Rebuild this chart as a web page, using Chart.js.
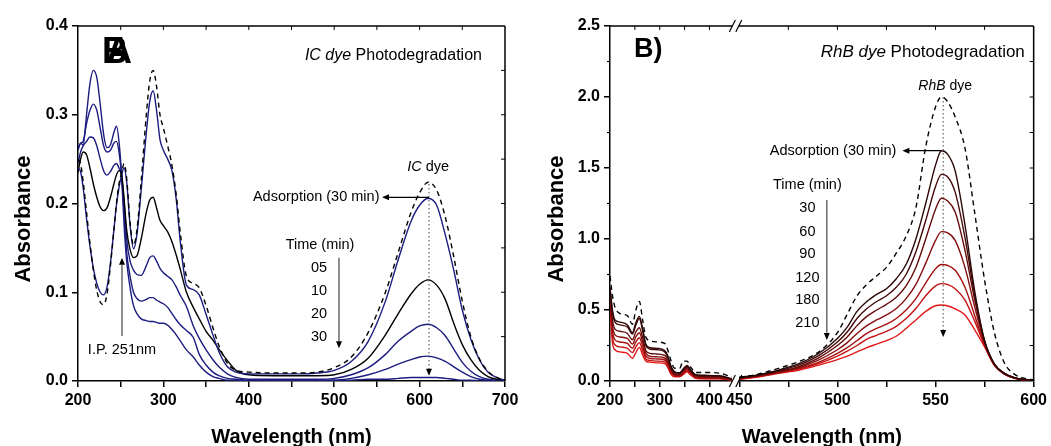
<!DOCTYPE html>
<html><head><meta charset="utf-8">
<script src="https://cdn.jsdelivr.net/npm/chart.js@4.4.1/dist/chart.umd.min.js"></script>
<style>
html,body{margin:0;padding:0;background:#fff;overflow:hidden}
#wrap{position:relative;width:1051px;height:446px}
canvas{position:absolute;top:0}
#cA{left:0}
#cB{left:525px}
</style></head><body>
<div id="wrap"><canvas id="cA" width="525" height="446"></canvas><canvas id="cB" width="526" height="446"></canvas></div>
<script>
// ================= Panel A : IC dye =================
const wlA = [200,203,206,210,214,218,222,226,230,234,238,242,245,248,251,254,257,261,265,269,274,280,284,288,292,296,300,305,310,315,320,327,335,342,350,358,365,375,385,400,430,460,480,500,520,540,560,575,590,600,610,620,630,640,650,660,670,680,690,700];
const icDye = [0.25,0.245,0.225,0.19,0.155,0.125,0.102,0.089,0.086,0.098,0.13,0.17,0.2,0.222,0.234,0.245,0.228,0.178,0.153,0.17,0.225,0.3,0.338,0.35,0.332,0.3,0.285,0.265,0.243,0.21,0.165,0.118,0.11,0.105,0.085,0.06,0.04,0.02,0.012,0.01,0.009,0.009,0.01,0.015,0.027,0.055,0.1,0.145,0.19,0.212,0.224,0.215,0.185,0.14,0.09,0.05,0.025,0.011,0.004,0.001];
const icAds30 = [0.24,0.236,0.218,0.183,0.152,0.127,0.11,0.1,0.097,0.106,0.133,0.17,0.198,0.218,0.232,0.24,0.224,0.175,0.149,0.165,0.215,0.28,0.315,0.327,0.305,0.272,0.26,0.25,0.237,0.205,0.155,0.108,0.103,0.097,0.075,0.052,0.033,0.016,0.01,0.008,0.008,0.008,0.009,0.012,0.022,0.045,0.09,0.137,0.18,0.198,0.206,0.198,0.165,0.125,0.08,0.047,0.024,0.01,0.004,0.001];
const ic05 = [0.235,0.25,0.258,0.255,0.24,0.222,0.207,0.196,0.192,0.195,0.207,0.222,0.232,0.237,0.233,0.205,0.17,0.148,0.139,0.141,0.16,0.19,0.204,0.207,0.195,0.181,0.175,0.168,0.157,0.142,0.125,0.1,0.083,0.07,0.056,0.046,0.036,0.023,0.012,0.007,0.006,0.006,0.006,0.007,0.013,0.026,0.052,0.076,0.098,0.109,0.114,0.108,0.092,0.065,0.041,0.024,0.012,0.005,0.002,0.001];
const ic10 = [0.245,0.258,0.265,0.27,0.275,0.274,0.265,0.25,0.237,0.232,0.236,0.243,0.245,0.24,0.232,0.2,0.16,0.135,0.125,0.12,0.119,0.13,0.139,0.141,0.135,0.127,0.122,0.118,0.114,0.106,0.096,0.084,0.062,0.048,0.035,0.024,0.016,0.008,0.004,0.002,0.002,0.002,0.002,0.003,0.007,0.015,0.03,0.045,0.056,0.062,0.064,0.06,0.051,0.036,0.021,0.011,0.005,0.002,0.001,0.0];
const ic20 = [0.26,0.268,0.27,0.29,0.305,0.312,0.305,0.285,0.265,0.258,0.26,0.268,0.27,0.258,0.232,0.19,0.145,0.118,0.1,0.093,0.09,0.092,0.094,0.094,0.091,0.089,0.087,0.083,0.076,0.069,0.063,0.057,0.049,0.03,0.018,0.01,0.006,0.003,0.002,0.001,0.001,0.001,0.001,0.001,0.003,0.007,0.013,0.019,0.024,0.027,0.028,0.026,0.022,0.016,0.01,0.005,0.002,0.001,0.0,0.0];
const ic30 = [0.262,0.268,0.266,0.3,0.335,0.35,0.342,0.312,0.278,0.263,0.266,0.28,0.287,0.27,0.232,0.175,0.135,0.105,0.085,0.076,0.07,0.068,0.067,0.067,0.066,0.065,0.065,0.063,0.058,0.052,0.045,0.035,0.027,0.018,0.01,0.005,0.003,0.001,0.001,0.0,0.0,0.0,0.0,0.001,0.001,0.002,0.002,0.003,0.004,0.004,0.004,0.004,0.003,0.002,0.001,0.001,0.0,0.0,0.0,0.0];
const timesA = ['05','10','20','30'];
const xTicksA = [200,250,300,350,400,450,500,550,600,650,700];
const topTicksA = [250,300,350,400,450,500,550,600,650];
const rightTicksA = [0.05,0.1,0.15,0.2,0.25,0.3,0.35];

// ================= Panel B : RhB dye (broken axis) =================
const wlBL = [200,205,210,220,235,245,252,259,266,272,280,295,310,316,322,330,340,347,355,362,372,390,420,445];
const wlBR = [450,460,470,480,490,500,505,510,515,520,525,530,535,540,545,550,553,556,560,565,570,575,580,585,590,595,600];
const rhbDyeL = [0.74,0.6,0.52,0.475,0.46,0.4,0.5,0.56,0.42,0.31,0.285,0.275,0.265,0.22,0.15,0.09,0.09,0.14,0.14,0.1,0.06,0.06,0.055,0.028];
const rhbDyeR = [0.025,0.05,0.089,0.135,0.2,0.34,0.47,0.6,0.68,0.74,0.8,0.9,1.02,1.22,1.65,1.93,2.0,1.97,1.86,1.64,1.18,0.71,0.34,0.13,0.05,0.02,0.008];
const rhbAdsL = [0.66,0.5,0.43,0.415,0.395,0.34,0.41,0.455,0.36,0.26,0.235,0.23,0.215,0.18,0.11,0.065,0.058,0.085,0.11,0.08,0.045,0.04,0.037,0.015];
const rhbAdsR = [0.025,0.045,0.077,0.12,0.19,0.3,0.38,0.49,0.56,0.61,0.65,0.72,0.82,1.0,1.25,1.52,1.622,1.6,1.48,1.1,0.63,0.285,0.12,0.055,0.025,0.01,0.005];
const rhb30L = [0.64,0.48,0.415,0.395,0.38,0.33,0.395,0.44,0.35,0.25,0.225,0.22,0.205,0.17,0.105,0.06,0.054,0.08,0.105,0.076,0.042,0.037,0.034,0.014];
const rhb30R = [0.022,0.042,0.072,0.11,0.175,0.275,0.345,0.44,0.51,0.56,0.6,0.66,0.75,0.91,1.13,1.37,1.455,1.44,1.33,1.01,0.6,0.28,0.118,0.054,0.024,0.01,0.005];
const rhb60L = [0.61,0.43,0.365,0.35,0.335,0.29,0.345,0.375,0.3,0.215,0.195,0.19,0.18,0.15,0.09,0.052,0.047,0.072,0.095,0.068,0.036,0.031,0.029,0.012];
const rhb60R = [0.02,0.04,0.068,0.1,0.16,0.25,0.31,0.39,0.455,0.5,0.54,0.59,0.67,0.8,1.0,1.21,1.287,1.27,1.19,0.92,0.57,0.275,0.117,0.053,0.023,0.01,0.005];
const rhb90L = [0.58,0.39,0.325,0.31,0.3,0.26,0.31,0.34,0.27,0.195,0.175,0.17,0.162,0.135,0.08,0.046,0.042,0.065,0.087,0.062,0.031,0.026,0.025,0.011];
const rhb90R = [0.018,0.037,0.064,0.093,0.145,0.22,0.27,0.335,0.39,0.43,0.465,0.51,0.58,0.68,0.83,0.99,1.052,1.045,0.99,0.8,0.52,0.27,0.115,0.052,0.022,0.009,0.004];
const rhb120L = [0.56,0.35,0.29,0.275,0.265,0.23,0.275,0.305,0.24,0.175,0.16,0.155,0.148,0.122,0.07,0.04,0.037,0.058,0.08,0.056,0.026,0.022,0.021,0.01];
const rhb120R = [0.016,0.034,0.06,0.087,0.13,0.195,0.235,0.285,0.335,0.37,0.4,0.44,0.5,0.58,0.69,0.79,0.82,0.815,0.78,0.66,0.46,0.26,0.115,0.05,0.021,0.009,0.004];
const rhb180L = [0.54,0.31,0.255,0.24,0.23,0.2,0.24,0.27,0.21,0.155,0.145,0.14,0.135,0.11,0.062,0.035,0.033,0.05,0.072,0.05,0.022,0.018,0.018,0.009];
const rhb180R = [0.014,0.032,0.057,0.082,0.12,0.175,0.21,0.25,0.295,0.322,0.35,0.385,0.44,0.51,0.6,0.67,0.686,0.68,0.65,0.57,0.42,0.25,0.11,0.05,0.021,0.008,0.003];
const rhb210L = [0.52,0.27,0.22,0.205,0.195,0.16,0.2,0.237,0.18,0.14,0.133,0.128,0.122,0.098,0.05,0.03,0.03,0.045,0.065,0.042,0.019,0.015,0.015,0.008];
const rhb210R = [0.01,0.03,0.054,0.075,0.11,0.15,0.175,0.205,0.235,0.26,0.285,0.315,0.37,0.43,0.49,0.53,0.535,0.53,0.508,0.465,0.36,0.24,0.11,0.05,0.02,0.008,0.003];
const timesB = ['30','60','90','120','180','210'];
const xTicksB = [200,250,300,350,400,450,475,500,525,550,575,600];
const xLabelsB = ['200','','300','','400','450','','500','','550','','600'];
const topTicksB = [250,300,350,400,475,500,525,550,575];
const minorYB = [0.25,0.75,1.25,1.75,2.25];
const rightTicksB = [0.25,0.5,0.75,1.0,1.25,1.5,1.75,2.0,2.25];

// ================= helpers =================
const FONT = '"Liberation Sans", Arial, sans-serif';
Chart.defaults.font.family = FONT;
Chart.defaults.color = '#000';
const NAVY = '#1c1c80';
const REDS = ['#2a0707','#470909','#650b0b','#850d0d','#a5100f','#c51212','#e41616'];
// broken-axis mapping for panel B (left part 200-445, right part 450-600)
const uB = w => w <= 447.5 ? (w - 200) / 2 : 130 + (w - 450) * 296 / 150;

function ds(data, color, dash){
  return {data, borderColor: color, borderWidth: 1.4, borderDash: dash || [], pointRadius: 0,
    cubicInterpolationMode: 'monotone', fill: false, spanGaps: false};
}
const ptsA = vals => wlA.map((w,i)=>({x:w, y:vals[i]}));
const ptsB = (L,R) => wlBL.map((w,i)=>({x:uB(w), y:L[i]}))
  .concat([{x:uB(447.5), y:null}], wlBR.map((w,i)=>({x:uB(w), y:R[i]})));

function txt(ctx, s, x, y, size, align, weight){
  ctx.font = (weight||'') + ' ' + size + 'px ' + FONT;
  ctx.textAlign = align || 'center'; ctx.textBaseline = 'middle'; ctx.fillStyle = '#000';
  ctx.fillText(s, x, y);
}
function rich(ctx, parts, x, y, size, align){
  const fonts = parts.map(p => (p[1] ? 'italic ' : '') + size + 'px ' + FONT);
  const ws = parts.map((p,i)=>{ctx.font = fonts[i]; return ctx.measureText(p[0]).width;});
  const tot = ws.reduce((a,b)=>a+b,0);
  let sx = align === 'right' ? x - tot : align === 'center' ? x - tot/2 : x;
  ctx.textAlign = 'left'; ctx.textBaseline = 'middle'; ctx.fillStyle = '#000';
  parts.forEach((p,i)=>{ctx.font = fonts[i]; ctx.fillText(p[0], sx, y); sx += ws[i];});
}
function seg(ctx, x1, y1, x2, y2, color, w, dash){
  ctx.save(); ctx.strokeStyle = color; ctx.lineWidth = w; ctx.setLineDash(dash || []);
  ctx.beginPath(); ctx.moveTo(x1,y1); ctx.lineTo(x2,y2); ctx.stroke(); ctx.restore();
}
function head(ctx, x, y, dir){
  const L = 7, H = 3;
  ctx.fillStyle = '#000'; ctx.beginPath(); ctx.moveTo(x,y);
  if (dir === 'left'){ctx.lineTo(x+L,y-H);ctx.lineTo(x+L,y+H);}
  if (dir === 'down'){ctx.lineTo(x-H,y-L);ctx.lineTo(x+H,y-L);}
  if (dir === 'up'){ctx.lineTo(x-H,y+L);ctx.lineTo(x+H,y+L);}
  ctx.closePath(); ctx.fill();
}
function axisTitles(ctx, ca, yTitleX){
  ctx.save();
  ctx.fillStyle = '#000';
  ctx.font = 'bold 20px ' + FONT; ctx.textAlign = 'center'; ctx.textBaseline = 'alphabetic';
  ctx.fillText('Wavelength (nm)', (ca.left + ca.right)/2, 443);
  ctx.translate(yTitleX, 219); ctx.rotate(-Math.PI/2);
  ctx.font = 'bold 22px ' + FONT;
  ctx.fillText('Absorbance', 0, 0);
  ctx.restore();
}
function commonScales(){
  return {
    grid: {drawOnChartArea:false, drawTicks:true, tickLength:6, color:'#000', lineWidth:1.5},
    border: {display:true, color:'#000', width:1.5},
    ticks: {font:{size:16, weight:'bold'}, color:'#000', padding:4, autoSkip:false, maxRotation:0}
  };
}

// ================= Chart A =================
const decoA = {
  id: 'decoA',
  afterDraw(chart){
    const {ctx, chartArea: ca, scales: {x, y}} = chart;
    const X = v => x.getPixelForValue(v), Y = v => y.getPixelForValue(v);
    ctx.save();
    seg(ctx, ca.left, ca.top, ca.right, ca.top, '#000', 1.5);
    seg(ctx, ca.right, ca.top, ca.right, ca.bottom, '#000', 1.5);
    topTicksA.forEach(w => seg(ctx, X(w), ca.top, X(w), ca.top + 4, '#000', 1));
    rightTicksA.forEach(v => seg(ctx, ca.right, Y(v), ca.right - 4, Y(v), '#000', 1));
    // panel letters (overlapping B / A)
    ctx.font = 'bold 36px ' + FONT; ctx.textAlign = 'left'; ctx.textBaseline = 'alphabetic'; ctx.fillStyle = '#000';
    ctx.fillText('B', ca.left + 24, ca.top + 37);
    ctx.fillText('A', ca.left + 28, ca.top + 37);
    rich(ctx, [['IC dye', true], [' Photodegradation', false]], X(673), Y(0.367), 16, 'right');
    rich(ctx, [['IC', true], [' dye', false]], X(610), Y(0.241), 14.5, 'center');
    // dotted line to the peak
    seg(ctx, X(611), Y(0.222), X(611), Y(0.013), '#444', 1, [1.5, 2.5]);
    head(ctx, X(611), Y(0.006), 'down');
    // adsorption arrow
    txt(ctx, 'Adsorption (30 min)', X(553), Y(0.207), 14.5, 'right');
    seg(ctx, X(611), Y(0.207), X(560), Y(0.207), '#000', 1.2);
    head(ctx, X(556), Y(0.207), 'left');
    // time arrow
    txt(ctx, 'Time (min)', X(483.4), Y(0.153), 14.5, 'center');
    seg(ctx, X(505.6), Y(0.139), X(505.6), Y(0.045), '#6a6a6a', 1.5);
    head(ctx, X(505.6), Y(0.037), 'down');
    const tyA = [0.127, 0.101, 0.0755, 0.0496];
    timesA.forEach((t,i) => txt(ctx, t, X(482.2), Y(tyA[i]), 14.5, 'center'));
    // isosbestic point
    txt(ctx, 'I.P. 251nm', X(251.5), Y(0.035), 14.5, 'center');
    seg(ctx, X(251.5), Y(0.0507), X(251.5), Y(0.131), '#6a6a6a', 1.5);
    head(ctx, X(251.5), Y(0.139), 'up');
    axisTitles(ctx, ca, 30);
    ctx.restore();
  }
};

new Chart(document.getElementById('cA'), {
  type: 'line',
  data: {datasets: [
    ds(ptsA(icDye), '#000', [5, 4]),
    ds(ptsA(icAds30), NAVY),
    ds(ptsA(ic05), '#000'),
    ds(ptsA(ic10), NAVY),
    ds(ptsA(ic20), NAVY),
    ds(ptsA(ic30), NAVY)
  ]},
  options: {
    responsive: false, animation: false, devicePixelRatio: 1,
    layout: {padding: {left: 0, right: 20, top: 26, bottom: 0}},
    plugins: {legend: {display: false}, tooltip: {enabled: false}},
    scales: {
      x: Object.assign(commonScales(), {
        type: 'linear', min: 200, max: 700,
        afterBuildTicks: s => { s.ticks = xTicksA.map(v => ({value: v})); },
        afterFit: s => { s.height = 65; }
      }),
      y: Object.assign(commonScales(), {
        type: 'linear', min: 0, max: 0.4,
        afterFit: s => { s.width = 78; }
      })
    }
  },
  plugins: [decoA]
});
{
  const c = Chart.getChart('cA');
  c.options.scales.x.ticks.callback = v => (v % 100 === 0 ? String(v) : '');
  c.options.scales.y.ticks.stepSize = 0.1;
  c.options.scales.y.ticks.callback = v => v.toFixed(1);
  c.update();
}

// ================= Chart B =================
const decoB = {
  id: 'decoB',
  afterDraw(chart){
    const {ctx, chartArea: ca, scales: {x, y}} = chart;
    const X = w => x.getPixelForValue(uB(w)), Y = v => y.getPixelForValue(v);
    ctx.save();
    seg(ctx, ca.left, ca.top, ca.right, ca.top, '#000', 1.5);
    seg(ctx, ca.right, ca.top, ca.right, ca.bottom, '#000', 1.5);
    topTicksB.forEach(w => seg(ctx, X(w), ca.top, X(w), ca.top + 4, '#000', 1));
    rightTicksB.forEach(v => seg(ctx, ca.right, Y(v), ca.right - 4, Y(v), '#000', 1));
    minorYB.forEach(v => seg(ctx, ca.left, Y(v), ca.left - 3, Y(v), '#000', 1.2));
    // axis break marks
    const xa = X(445) + 0.5, xb = X(450) - 0.5;
    ctx.fillStyle = '#fff';
    [ca.bottom, ca.top].forEach(yy => {
      ctx.fillRect(xa, yy - 2, xb - xa, 4);
      seg(ctx, xa - 3, yy + 6, xa + 3, yy - 6, '#000', 1.2);
      seg(ctx, xb - 3, yy + 6, xb + 3, yy - 6, '#000', 1.2);
    });
    ctx.font = 'bold 27px ' + FONT; ctx.textAlign = 'left'; ctx.textBaseline = 'alphabetic'; ctx.fillStyle = '#000';
    ctx.fillText('B)', ca.left + 24, ca.top + 31);
    rich(ctx, [['RhB dye', true], [' Photodegradation', false]], X(595.5), Y(2.317), 17, 'right');
    rich(ctx, [['RhB', true], [' dye', false]], X(554.9), Y(2.077), 14, 'center');
    seg(ctx, X(553.9), Y(2.0), X(553.9), Y(0.36), '#444', 1, [1.5, 2.5]);
    head(ctx, X(553.9), Y(0.31), 'down');
    txt(ctx, 'Adsorption (30 min)', X(530), Y(1.62), 14.5, 'right');
    seg(ctx, X(553), Y(1.622), X(535), Y(1.622), '#000', 1.2);
    head(ctx, X(533.1), Y(1.622), 'left');
    txt(ctx, 'Time (min)', X(484.7), Y(1.38), 14.5, 'center');
    seg(ctx, X(494.6), Y(1.275), X(494.6), Y(0.34), '#6a6a6a', 1.5);
    head(ctx, X(494.6), Y(0.289), 'down');
    const tyB = [1.218, 1.049, 0.894, 0.725, 0.570, 0.408];
    timesB.forEach((t,i) => txt(ctx, t, X(484.7), Y(tyB[i]), 14.5, 'center'));
    axisTitles(ctx, ca, 38);
    ctx.restore();
  }
};

new Chart(document.getElementById('cB'), {
  type: 'line',
  data: {datasets: [
    ds(ptsB(rhbDyeL, rhbDyeR), '#000', [5, 4]),
    ds(ptsB(rhbAdsL, rhbAdsR), REDS[0]),
    ds(ptsB(rhb30L, rhb30R), REDS[1]),
    ds(ptsB(rhb60L, rhb60R), REDS[2]),
    ds(ptsB(rhb90L, rhb90R), REDS[3]),
    ds(ptsB(rhb120L, rhb120R), REDS[4]),
    ds(ptsB(rhb180L, rhb180R), REDS[5]),
    ds(ptsB(rhb210L, rhb210R), REDS[6])
  ]},
  options: {
    responsive: false, animation: false, devicePixelRatio: 1,
    layout: {padding: {left: 0, right: 15, top: 26, bottom: 0}},
    plugins: {legend: {display: false}, tooltip: {enabled: false}},
    scales: {
      x: Object.assign(commonScales(), {
        type: 'linear', min: uB(200), max: uB(600),
        afterBuildTicks: s => { s.ticks = xTicksB.map(w => ({value: uB(w)})); },
        afterFit: s => { s.height = 65; }
      }),
      y: Object.assign(commonScales(), {
        type: 'linear', min: 0, max: 2.5,
        afterFit: s => { s.width = 85; }
      })
    }
  },
  plugins: [decoB]
});
{
  const c = Chart.getChart('cB');
  c.options.scales.x.ticks.callback = (v, i) => xLabelsB[i];
  c.options.scales.y.ticks.stepSize = 0.5;
  c.options.scales.y.ticks.callback = v => v.toFixed(1);
  c.update();
}
</script>
</body></html>
